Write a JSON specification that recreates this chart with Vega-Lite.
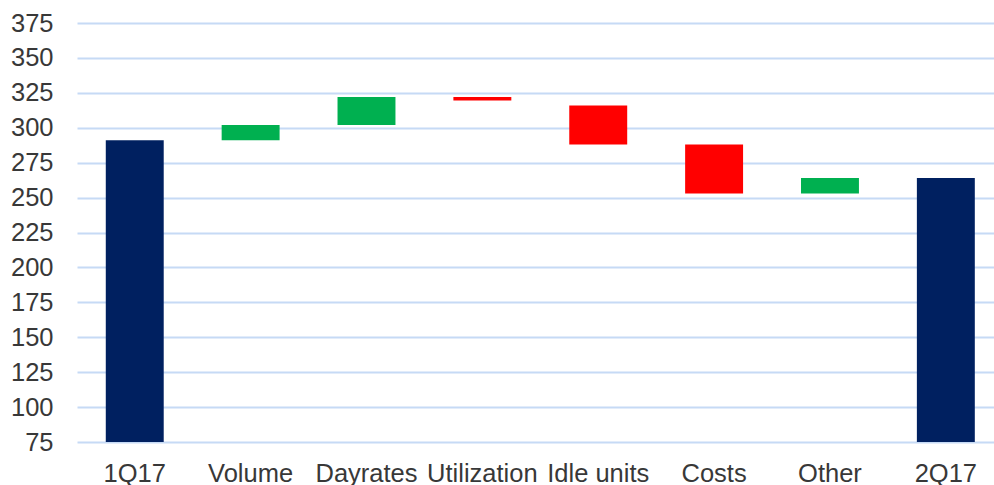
{
  "$schema": "https://vega.github.io/schema/vega-lite/v6.json",
  "width": 917,
  "height": 419,
  "autosize": {"type": "none"},
  "padding": {"left": 77, "top": 23, "right": 0, "bottom": 43},
  "background": "white",
  "config": {"view": {"stroke": null}, "font": "Liberation Sans"},
  "data": {
    "values": [
      {"category": "1Q17", "start": 0, "end": 291, "kind": "total"},
      {"category": "Volume", "start": 291, "end": 302, "kind": "up"},
      {"category": "Dayrates", "start": 302, "end": 322, "kind": "up"},
      {"category": "Utilization", "start": 322, "end": 319.5, "kind": "down"},
      {"category": "Idle units", "start": 316, "end": 288, "kind": "down"},
      {"category": "Costs", "start": 288, "end": 253, "kind": "down"},
      {"category": "Other", "start": 253, "end": 264, "kind": "up"},
      {"category": "2Q17", "start": 0, "end": 264, "kind": "total"}
    ]
  },
  "mark": {"type": "bar", "clip": true},
  "encoding": {
    "x": {
      "field": "category",
      "type": "nominal",
      "sort": null,
      "scale": {"paddingInner": 0.5, "paddingOuter": 0.207, "align": 0.6},
      "axis": {
        "title": null,
        "labelAngle": 0,
        "labelFontSize": 25.5,
        "labelColor": "#383838",
        "labelPadding": 19,
        "labelOverlap": false,
        "ticks": false,
        "domain": false,
        "grid": false
      }
    },
    "y": {
      "field": "start",
      "type": "quantitative",
      "scale": {"domain": [75, 375], "nice": false, "zero": false},
      "axis": {
        "title": null,
        "values": [75, 100, 125, 150, 175, 200, 225, 250, 275, 300, 325, 350, 375],
        "labelFontSize": 25.5,
        "labelColor": "#383838",
        "labelPadding": 24,
        "ticks": false,
        "domain": false,
        "grid": true,
        "gridColor": "#C6DAF5",
        "gridWidth": 2
      }
    },
    "y2": {"field": "end"},
    "color": {
      "field": "kind",
      "type": "nominal",
      "scale": {"domain": ["total", "up", "down"], "range": ["#002060", "#00B050", "#FF0000"]},
      "legend": null
    }
  }
}
